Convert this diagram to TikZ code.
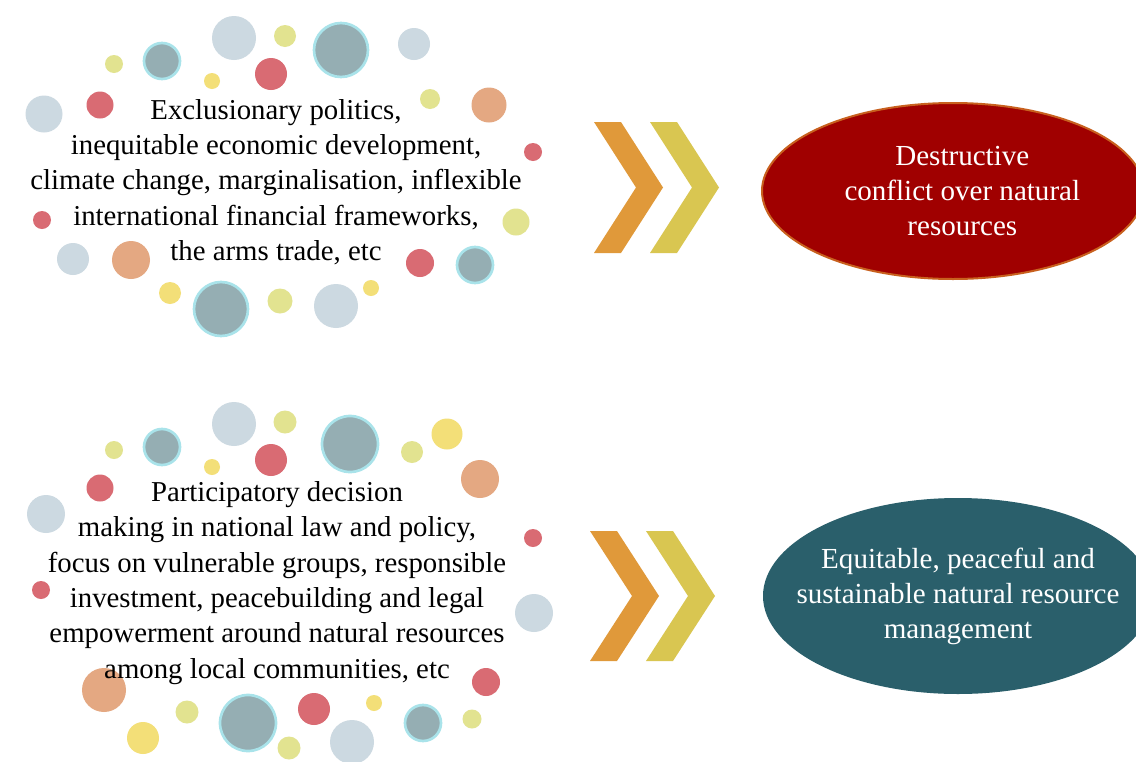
\documentclass[tikz,border=0pt]{standalone}
\usepackage{fontspec}
\setmainfont{Liberation Serif}
\usetikzlibrary{shapes.geometric,positioning}

\definecolor{dotgrey}{HTML}{CCD9E1}
\definecolor{dotlime}{HTML}{E2E390}
\definecolor{dotteal}{HTML}{95AEB3}
\definecolor{dotring}{HTML}{A9E3EA}
\definecolor{dotred}{HTML}{D96B73}
\definecolor{dotyellow}{HTML}{F3DF78}
\definecolor{dotorange}{HTML}{E4A882}
\definecolor{chevorange}{HTML}{E0993A}
\definecolor{chevyellow}{HTML}{D9C651}
\definecolor{conflictred}{HTML}{A00000}
\definecolor{conflictrim}{HTML}{C8601E}
\definecolor{peaceteal}{HTML}{2A5F6B}

\tikzset{
  cause/.style={align=center,font=\fontsize{21.6}{26.5}\selectfont,inner sep=0pt},
  outcome/.style={ellipse,align=center,inner sep=0pt,text=white,
    font=\fontsize{21.8}{26.2}\selectfont},
  chev/.pic={\fill (0,0) -- (27,0) -- (69,65.5) -- (27,131) -- (0,131) -- (42,65.5) -- cycle;}
}

\begin{document}
\begin{tikzpicture}[x=0.75pt,y=-0.75pt]
  \clip (0,0) rectangle (1136,761);
  \fill[white] (0,0) rectangle (1136,761);

  % dots round the causes
  \foreach \x/\y/\r/\c in {234/38/22/dotgrey, 285/36/11/dotlime, 414/44/16/dotgrey,
      114/64/9/dotlime, 212/81/8/dotyellow, 271/74/16/dotred, 44/114/18.5/dotgrey,
      100/105/13.5/dotred, 430/99/10/dotlime, 489/105/17.5/dotorange, 533/152/9/dotred,
      42/220/9/dotred, 516/222/13.5/dotlime, 73/259/16/dotgrey, 131/260/19/dotorange,
      420/263/14/dotred, 170/293/11/dotyellow, 280/301/12.5/dotlime, 336/306/22/dotgrey,
      371/288/8/dotyellow}
    \fill[\c] (\x,\y) circle[radius=\r*0.75pt];
  \foreach \x/\y/\r in {341/50/27, 162/61/18, 475/265/18, 221/309/27}
    \filldraw[fill=dotteal,draw=dotring,line width=2pt] (\x,\y) circle[radius=\r*0.75pt];

  % dots round the remedies
  \foreach \x/\y/\r/\c in {234/424/22/dotgrey, 285/422/11.5/dotlime, 412/452/11/dotlime,
      447/434/15.5/dotyellow, 114/450/9/dotlime, 212/467/8/dotyellow, 271/460/16/dotred,
      480/479/19/dotorange, 100/488/13.5/dotred, 46/514/19/dotgrey, 533/538/9/dotred,
      41/590/9/dotred, 534/613/19/dotgrey, 104/690/22/dotorange, 486/682/14/dotred,
      187/712/11.5/dotlime, 314/709/16/dotred, 374/703/8/dotyellow, 472/719/9.5/dotlime,
      143/738/16/dotyellow, 289/748/11.5/dotlime, 352/742/22/dotgrey}
    \fill[\c] (\x,\y) circle[radius=\r*0.75pt];
  \foreach \x/\y/\r in {350/444/28, 162/447/18, 248/723/28, 423/723/18}
    \filldraw[fill=dotteal,draw=dotring,line width=2pt] (\x,\y) circle[radius=\r*0.75pt];

  \node[cause] (causes) at (276,182) {Exclusionary politics,\\
    inequitable economic development,\\
    climate change, marginalisation, inflexible\\
    international financial frameworks,\\
    the arms trade, etc};
  \node[cause] (remedies) at (277,583) {Participatory decision\\
    making in national law and policy,\\
    focus on vulnerable groups, responsible\\
    investment, peacebuilding and legal\\
    empowerment around natural resources\\
    among local communities, etc};

  % chevrons
  \pic[fill=chevorange] (badarrowa) at (594,122) {chev};
  \pic[fill=chevyellow] (badarrowb) at (650,122) {chev};
  \pic[fill=chevorange,yscale=130/131] (goodarrowa) at (590,531) {chev};
  \pic[fill=chevyellow,yscale=130/131] (goodarrowb) at (646,531) {chev};

  \node[outcome,fill=conflictred,draw=conflictrim,line width=1.5pt,
    minimum width=382*0.75pt,minimum height=176*0.75pt] (conflict) at (953,191)
    {\hspace*{14pt}Destructive\\\hspace*{14pt}conflict over natural\\\hspace*{14pt}resources};
  \node[outcome,fill=peaceteal,inner xsep=-26pt,
    minimum width=390*0.75pt,minimum height=196*0.75pt]
    (peace) at (958,596)
    {Equitable, peaceful and\\sustainable natural resource\\management};
\end{tikzpicture}
\end{document}
